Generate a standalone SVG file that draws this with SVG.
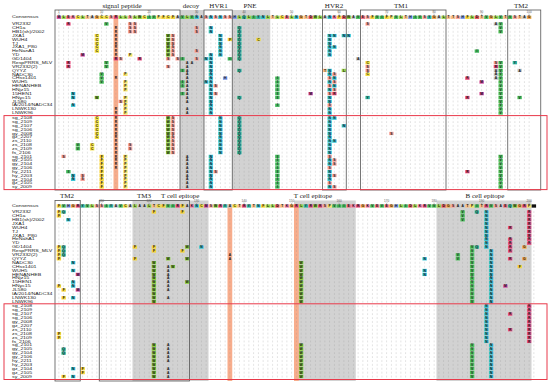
<svg xmlns="http://www.w3.org/2000/svg" width="550" height="384" viewBox="0 0 550 384">
<style>
.nm{font-family:"Liberation Sans",Arial,sans-serif;font-size:3.4px;fill:#222}
.hd{font-family:"Liberation Serif","Times New Roman",serif;font-size:7px;fill:#222}
.mk{font-family:"Liberation Sans",Arial,sans-serif;font-size:3px;fill:#555;text-anchor:middle}
.box{fill:none;stroke:#555;stroke-width:0.8}
.red{fill:none;stroke:#e8394a;stroke-width:1}
.gr{fill:#d2d2d2}
.or{fill:#f8ad8c}
</style>
<defs>
<pattern id="p1" patternUnits="userSpaceOnUse" x="56.5" y="22.065" width="4.75" height="3.87"><circle cx="2.375" cy="1.935" r="0.42" fill="#888"/></pattern>
<pattern id="p2" patternUnits="userSpaceOnUse" x="56.5" y="116.29" width="4.75" height="3.82"><circle cx="2.375" cy="1.91" r="0.42" fill="#888"/></pattern>
<pattern id="p3" patternUnits="userSpaceOnUse" x="56.5" y="210.05" width="4.75" height="3.9"><circle cx="2.375" cy="1.95" r="0.42" fill="#888"/></pattern>
<pattern id="p4" patternUnits="userSpaceOnUse" x="56.5" y="304.35" width="4.75" height="3.9"><circle cx="2.375" cy="1.95" r="0.42" fill="#888"/></pattern>
<g id="kA"><rect x="-2.2" y="-1.65" width="4.4" height="3.3" fill="#c6c6c6"/><text y="1.15">A</text></g>
<g id="kC"><rect x="-2.2" y="-1.65" width="4.4" height="3.3" fill="#f0dc3c"/><text y="1.15">C</text></g>
<g id="kD"><rect x="-2.2" y="-1.65" width="4.4" height="3.3" fill="#e4585a"/><text y="1.15">D</text></g>
<g id="kE"><rect x="-2.2" y="-1.65" width="4.4" height="3.3" fill="#ef6f7f"/><text y="1.15">E</text></g>
<g id="kF"><rect x="-2.2" y="-1.65" width="4.4" height="3.3" fill="#f6d43a"/><text y="1.15">F</text></g>
<g id="kG"><rect x="-2.2" y="-1.65" width="4.4" height="3.3" fill="#f3a64a"/><text y="1.15">G</text></g>
<g id="kH"><rect x="-2.2" y="-1.65" width="4.4" height="3.3" fill="#7f9be6"/><text y="1.15">H</text></g>
<g id="kI"><rect x="-2.2" y="-1.65" width="4.4" height="3.3" fill="#3fb55a"/><text y="1.15">I</text></g>
<g id="kK"><rect x="-2.2" y="-1.65" width="4.4" height="3.3" fill="#f27fa6"/><text y="1.15">K</text></g>
<g id="kL"><rect x="-2.2" y="-1.65" width="4.4" height="3.3" fill="#9bd44e"/><text y="1.15">L</text></g>
<g id="kM"><rect x="-2.2" y="-1.65" width="4.4" height="3.3" fill="#d24fa6"/><text y="1.15">M</text></g>
<g id="kN"><rect x="-2.2" y="-1.65" width="4.4" height="3.3" fill="#37c4d6"/><text y="1.15">N</text></g>
<g id="kP"><rect x="-2.2" y="-1.65" width="4.4" height="3.3" fill="#f7e36a"/><text y="1.15">P</text></g>
<g id="kQ"><rect x="-2.2" y="-1.65" width="4.4" height="3.3" fill="#36b89c"/><text y="1.15">Q</text></g>
<g id="kR"><rect x="-2.2" y="-1.65" width="4.4" height="3.3" fill="#ea4f7f"/><text y="1.15">R</text></g>
<g id="kS"><rect x="-2.2" y="-1.65" width="4.4" height="3.3" fill="#f6a39c"/><text y="1.15">S</text></g>
<g id="kT"><rect x="-2.2" y="-1.65" width="4.4" height="3.3" fill="#f8c08a"/><text y="1.15">T</text></g>
<g id="kV"><rect x="-2.2" y="-1.65" width="4.4" height="3.3" fill="#4cbf5c"/><text y="1.15">V</text></g>
<g id="kW"><rect x="-2.2" y="-1.65" width="4.4" height="3.3" fill="#8ccf3c"/><text y="1.15">W</text></g>
<g id="kY"><rect x="-2.2" y="-1.65" width="4.4" height="3.3" fill="#2fb5a3"/><text y="1.15">Y</text></g>
<g id="kX"><rect x="-2.2" y="-1.65" width="4.4" height="3.3" fill="#111"/></g>
<g id="oR"><text y="1.15">R</text></g>
<g id="oA"><text y="1.15">A</text></g>
</defs>
<rect width="550" height="384" fill="#fff"/>

<!-- background shading -->
<g id="shading">
<rect class="gr" x="180" y="10" width="24" height="180"/>
<rect class="gr" x="232.25" y="10" width="38" height="180"/>
<rect class="or" x="113.5" y="15" width="4.75" height="175"/>
<rect class="gr" x="132.5" y="200.5" width="76" height="180.5"/>
<rect class="gr" x="294" y="200.5" width="61.75" height="180.5"/>
<rect class="gr" x="436.5" y="200.5" width="95" height="180.5"/>
<rect class="or" x="227.5" y="204" width="4.75" height="177"/>
<rect class="or" x="294" y="204" width="4.75" height="177"/>
</g>

<g id="dots">
<rect x="56.5" y="22.065" width="475" height="92.88" fill="url(#p1)"/>
<rect x="56.5" y="116.29" width="475" height="72.58" fill="url(#p2)"/>
<rect x="56.5" y="210.05" width="479.75" height="93.6" fill="url(#p3)"/>
<rect x="56.5" y="304.35" width="479.75" height="74.1" fill="url(#p4)"/>
</g>

<!-- region labels -->
<g id="labels">
<text class="hd" x="122" y="8" text-anchor="middle">signal peptide</text>
<text class="hd" x="191" y="8" text-anchor="middle">decoy</text>
<text class="hd" x="218.5" y="8" text-anchor="middle">HVR1</text>
<text class="hd" x="250" y="8" text-anchor="middle">PNE</text>
<text class="hd" x="334" y="8" text-anchor="middle">HVR2</text>
<text class="hd" x="401" y="8" text-anchor="middle">TM1</text>
<text class="hd" x="521" y="8" text-anchor="middle">TM2</text>
<text class="hd" x="67" y="197.5" text-anchor="middle">TM2</text>
<text class="hd" x="137" y="197.5">TM3</text>
<text class="hd" x="161" y="197.5">T cell epitope</text>
<text class="hd" x="313" y="197.5" text-anchor="middle">T cell epitope</text>
<text class="hd" x="485" y="197.5" text-anchor="middle">B cell epitope</text>
</g>

<!-- position markers -->
<g id="markers">
<text class="mk" x="58.88" y="13">1</text><text class="mk" x="101.63" y="13">10</text><text class="mk" x="149.13" y="13">20</text><text class="mk" x="196.63" y="13">30</text><text class="mk" x="244.13" y="13">40</text><text class="mk" x="291.63" y="13">50</text><text class="mk" x="339.13" y="13">60</text><text class="mk" x="386.63" y="13">70</text><text class="mk" x="434.13" y="13">80</text><text class="mk" x="481.63" y="13">90</text><text class="mk" x="529.13" y="13">100</text>
<text class="mk" x="101.63" y="202.2">110</text><text class="mk" x="149.13" y="202.2">120</text><text class="mk" x="196.63" y="202.2">130</text><text class="mk" x="244.13" y="202.2">140</text><text class="mk" x="291.63" y="202.2">150</text><text class="mk" x="339.13" y="202.2">160</text><text class="mk" x="386.63" y="202.2">170</text><text class="mk" x="434.13" y="202.2">180</text><text class="mk" x="481.63" y="202.2">190</text><text class="mk" x="529.13" y="202.2">200</text>
<path fill="none" stroke="#777" stroke-width="0.35" d="M58.08,13.4L58.88,14.6L59.68,13.4M100.83,13.4L101.63,14.6L102.43,13.4M148.33,13.4L149.13,14.6L149.93,13.4M195.83,13.4L196.63,14.6L197.43,13.4M243.33,13.4L244.13,14.6L244.93,13.4M290.83,13.4L291.63,14.6L292.43,13.4M338.33,13.4L339.13,14.6L339.93,13.4M385.83,13.4L386.63,14.6L387.43,13.4M433.33,13.4L434.13,14.6L434.93,13.4M480.83,13.4L481.63,14.6L482.43,13.4M528.33,13.4L529.13,14.6L529.93,13.4"/>
<path fill="none" stroke="#777" stroke-width="0.35" d="M100.83,202.5L101.63,203.7L102.43,202.5M148.33,202.5L149.13,203.7L149.93,202.5M195.83,202.5L196.63,203.7L197.43,202.5M243.33,202.5L244.13,203.7L244.93,202.5M290.83,202.5L291.63,203.7L292.43,202.5M338.33,202.5L339.13,203.7L339.93,202.5M385.83,202.5L386.63,203.7L387.43,202.5M433.33,202.5L434.13,203.7L434.93,202.5M480.83,202.5L481.63,203.7L482.43,202.5M528.33,202.5L529.13,203.7L529.93,202.5"/>
</g>

<!-- strain names -->
<g id="names" class="nm" transform="translate(12,0) scale(1.55,1)">
<text x="0" y="18.5">Consensus</text>
<text x="0" y="25.2">VR2332</text>
<text x="0" y="29.07">CH1a</text>
<text x="0" y="32.94">HB1(sh)/2002</text>
<text x="0" y="36.81">JXA1</text>
<text x="0" y="40.68">WUH4</text>
<text x="0" y="44.55">TJ</text>
<text x="0" y="48.42">JXA1_P80</text>
<text x="0" y="52.29">HeNanA1</text>
<text x="0" y="56.16">YD</text>
<text x="0" y="60.03">GD1404</text>
<text x="0" y="63.9">RespPRRS_MLV</text>
<text x="0" y="67.77">VR2332(2)</text>
<text x="0" y="71.64">QYYZ</text>
<text x="0" y="75.51">NADC30</text>
<text x="0" y="79.38">CHsx1401</text>
<text x="0" y="83.25">WUH5</text>
<text x="0" y="87.12">HENANHEB</text>
<text x="0" y="90.99">HNjz15</text>
<text x="0" y="94.86">15HEN1</text>
<text x="0" y="98.73">HNyc15</text>
<text x="0" y="102.6">JL580</text>
<text x="0" y="106.47">IA/2014/NADC34</text>
<text x="0" y="110.34">LNWK130</text>
<text x="0" y="114.21">LNWK96</text>
<text x="0" y="119.4">sg_2108</text>
<text x="0" y="123.22">sg_2109</text>
<text x="0" y="127.04">sg_2107</text>
<text x="0" y="130.86">sg_2106</text>
<text x="0" y="134.68">gy_2008</text>
<text x="0" y="138.5">gz_2207</text>
<text x="0" y="142.32">zs_2110</text>
<text x="0" y="146.14">zs_2108</text>
<text x="0" y="149.96">zs_2109</text>
<text x="0" y="153.78">fs_2106</text>
<text x="0" y="157.6">sg_2101</text>
<text x="0" y="161.42">gy_2105</text>
<text x="0" y="165.24">gy_2104</text>
<text x="0" y="169.06">gy_2106</text>
<text x="0" y="172.88">hy_2211</text>
<text x="0" y="176.7">hy_2203</text>
<text x="0" y="180.52">gz_2104</text>
<text x="0" y="184.34">gz_2105</text>
<text x="0" y="188.16">sy_2009</text>
<text x="0" y="207.2">Consensus</text>
<text x="0" y="213.2">VR2332</text>
<text x="0" y="217.1">CH1a</text>
<text x="0" y="221">HB1(sh)/2002</text>
<text x="0" y="224.9">JXA1</text>
<text x="0" y="228.8">WUH4</text>
<text x="0" y="232.7">TJ</text>
<text x="0" y="236.6">JXA1_P80</text>
<text x="0" y="240.5">HeNanA1</text>
<text x="0" y="244.4">YD</text>
<text x="0" y="248.3">GD1404</text>
<text x="0" y="252.2">RespPRRS_MLV</text>
<text x="0" y="256.1">VR2332(2)</text>
<text x="0" y="260">QYYZ</text>
<text x="0" y="263.9">NADC30</text>
<text x="0" y="267.8">CHsx1401</text>
<text x="0" y="271.7">WUH5</text>
<text x="0" y="275.6">HENANHEB</text>
<text x="0" y="279.5">HNjz15</text>
<text x="0" y="283.4">15HEN1</text>
<text x="0" y="287.3">HNyc15</text>
<text x="0" y="291.2">JL580</text>
<text x="0" y="295.1">IA/2014/NADC34</text>
<text x="0" y="299">LNWK130</text>
<text x="0" y="302.9">LNWK96</text>
<text x="0" y="307.5">sg_2108</text>
<text x="0" y="311.4">sg_2109</text>
<text x="0" y="315.3">sg_2107</text>
<text x="0" y="319.2">sg_2106</text>
<text x="0" y="323.1">gy_2008</text>
<text x="0" y="327">gz_2207</text>
<text x="0" y="330.9">zs_2110</text>
<text x="0" y="334.8">zs_2108</text>
<text x="0" y="338.7">zs_2109</text>
<text x="0" y="342.6">fs_2106</text>
<text x="0" y="346.5">sg_2101</text>
<text x="0" y="350.4">gy_2105</text>
<text x="0" y="354.3">gy_2104</text>
<text x="0" y="358.2">gy_2106</text>
<text x="0" y="362.1">hy_2211</text>
<text x="0" y="366">hy_2203</text>
<text x="0" y="369.9">gz_2104</text>
<text x="0" y="373.8">gz_2105</text>
<text x="0" y="377.7">sy_2009</text>
</g>

<g id="cells" font-family="Liberation Sans, Arial, sans-serif" font-size="3.3" font-weight="bold" text-anchor="middle" fill="#111">
<!-- top consensus -->
<g transform="translate(0,17.3)">
<use href="#kM" x="58.88"/><use href="#kL" x="63.63"/><use href="#kE" x="68.38"/><use href="#kK" x="73.13"/><use href="#kC" x="77.88"/><use href="#kL" x="82.63"/><use href="#kT" x="87.38"/><use href="#kA" x="92.13"/><use href="#kG" x="96.88"/><use href="#kC" x="101.63"/>
<use href="#kC" x="106.38"/><use href="#kS" x="111.13"/><use href="#kR" x="115.88"/><use href="#kL" x="120.63"/><use href="#kL" x="125.38"/><use href="#kS" x="130.13"/><use href="#kL" x="134.88"/><use href="#kW" x="139.63"/><use href="#kC" x="144.38"/><use href="#kI" x="149.13"/>
<use href="#kV" x="153.88"/><use href="#kP" x="158.63"/><use href="#kF" x="163.38"/><use href="#kC" x="168.13"/><use href="#kF" x="172.88"/><use href="#kA" x="177.63"/><use href="#kV" x="182.38"/><use href="#kL" x="187.13"/><use href="#kV" x="191.88"/><use href="#kN" x="196.63"/>
<use href="#kA" x="201.38"/><use href="#kS" x="206.13"/><use href="#kN" x="210.88"/><use href="#kS" x="215.63"/><use href="#kN" x="220.38"/><use href="#kS" x="225.13"/><use href="#kS" x="229.88"/><use href="#kH" x="234.63"/><use href="#kL" x="239.38"/><use href="#kQ" x="244.13"/>
<use href="#kL" x="248.88"/><use href="#kI" x="253.63"/><use href="#kY" x="258.38"/><use href="#kN" x="263.13"/><use href="#kL" x="267.88"/><use href="#kT" x="272.63"/><use href="#kL" x="277.38"/><use href="#kC" x="282.13"/><use href="#kE" x="286.88"/><use href="#kL" x="291.63"/>
<use href="#kN" x="296.38"/><use href="#kG" x="301.13"/><use href="#kT" x="305.88"/><use href="#kD" x="310.63"/><use href="#kW" x="315.38"/><use href="#kL" x="320.13"/><use href="#kA" x="324.88"/><use href="#kN" x="329.63"/><use href="#kK" x="334.38"/><use href="#kF" x="339.13"/>
<use href="#kD" x="343.88"/><use href="#kW" x="348.63"/><use href="#kA" x="353.38"/><use href="#kV" x="358.13"/><use href="#kE" x="362.88"/><use href="#kS" x="367.63"/><use href="#kF" x="372.38"/><use href="#kV" x="377.13"/><use href="#kI" x="381.88"/><use href="#kF" x="386.63"/>
<use href="#kP" x="391.38"/><use href="#kV" x="396.13"/><use href="#kL" x="400.88"/><use href="#kT" x="405.63"/><use href="#kH" x="410.38"/><use href="#kI" x="415.13"/><use href="#kV" x="419.88"/><use href="#kS" x="424.63"/><use href="#kY" x="429.38"/><use href="#kG" x="434.13"/>
<use href="#kA" x="438.88"/><use href="#kL" x="443.63"/><use href="#kT" x="448.38"/><use href="#kT" x="453.13"/><use href="#kS" x="457.88"/><use href="#kH" x="462.63"/><use href="#kF" x="467.38"/><use href="#kL" x="472.13"/><use href="#kD" x="476.88"/><use href="#kT" x="481.63"/>
<use href="#kV" x="486.38"/><use href="#kG" x="491.13"/><use href="#kL" x="495.88"/><use href="#kV" x="500.63"/><use href="#kT" x="505.38"/><use href="#kV" x="510.13"/><use href="#kS" x="514.88"/><use href="#kT" x="519.63"/><use href="#kA" x="524.38"/><use href="#kG" x="529.13"/>
</g>
<!-- top reference strains -->
<g transform="translate(0,24)"><use href="#kR" x="68.38"/><use href="#kV" x="106.38"/><use href="#kS" x="130.13"/><use href="#kS" x="134.88"/><use href="#kS" x="367.63"/><use href="#kA" x="495.88"/><use href="#kV" x="500.63"/></g>
<g transform="translate(0,27.87)"><use href="#oR" x="115.88"/><use href="#kS" x="130.13"/><use href="#kS" x="134.88"/><use href="#kS" x="196.63"/><use href="#kN" x="210.88"/><use href="#kQ" x="239.38"/><use href="#kV" x="500.63"/></g>
<g transform="translate(0,31.74)"><use href="#oR" x="115.88"/><use href="#kS" x="130.13"/><use href="#kS" x="134.88"/><use href="#kS" x="196.63"/><use href="#kN" x="210.88"/><use href="#kQ" x="239.38"/><use href="#kV" x="500.63"/></g>
<g transform="translate(0,35.61)"><use href="#kC" x="96.88"/><use href="#oR" x="115.88"/><use href="#kW" x="168.13"/><use href="#kS" x="172.88"/><use href="#kN" x="220.38"/><use href="#kQ" x="239.38"/><use href="#kN" x="329.63"/><use href="#kN" x="334.38"/><use href="#kN" x="343.88"/><use href="#kN" x="348.63"/></g>
<g transform="translate(0,39.48)"><use href="#kC" x="96.88"/><use href="#oR" x="115.88"/><use href="#kW" x="168.13"/><use href="#kS" x="172.88"/><use href="#kN" x="220.38"/><use href="#kF" x="229.88"/><use href="#kQ" x="239.38"/><use href="#kC" x="258.38"/><use href="#kN" x="329.63"/></g>
<g transform="translate(0,43.35)"><use href="#kC" x="96.88"/><use href="#oR" x="115.88"/><use href="#kW" x="168.13"/><use href="#kS" x="172.88"/><use href="#kN" x="220.38"/><use href="#kQ" x="239.38"/><use href="#kN" x="329.63"/></g>
<g transform="translate(0,47.22)"><use href="#kC" x="96.88"/><use href="#oR" x="115.88"/><use href="#kW" x="168.13"/><use href="#kS" x="172.88"/><use href="#kN" x="220.38"/><use href="#kQ" x="239.38"/><use href="#kN" x="329.63"/><use href="#kN" x="334.38"/></g>
<g transform="translate(0,51.09)"><use href="#kC" x="96.88"/><use href="#oR" x="115.88"/><use href="#kW" x="168.13"/><use href="#kS" x="172.88"/><use href="#kS" x="196.63"/><use href="#kN" x="220.38"/><use href="#kQ" x="239.38"/><use href="#kN" x="329.63"/><use href="#kI" x="476.88"/></g>
<g transform="translate(0,54.96)"><use href="#kM" x="82.63"/><use href="#oR" x="115.88"/><use href="#kP" x="130.13"/><use href="#kW" x="168.13"/><use href="#kS" x="172.88"/><use href="#kN" x="210.88"/><use href="#kN" x="220.38"/><use href="#kQ" x="239.38"/><use href="#kN" x="329.63"/></g>
<g transform="translate(0,58.83)"><use href="#kR" x="115.88"/><use href="#kS" x="120.63"/><use href="#kR" x="139.63"/><use href="#kS" x="168.13"/><use href="#kS" x="177.63"/><use href="#kI" x="182.38"/><use href="#kS" x="196.63"/><use href="#kN" x="206.13"/><use href="#kN" x="210.88"/><use href="#kI" x="229.88"/><use href="#kQ" x="239.38"/><use href="#kA" x="358.13"/></g>
<g transform="translate(0,62.7)"><use href="#kR" x="68.38"/><use href="#kV" x="106.38"/><use href="#kA" x="187.13"/><use href="#kA" x="191.88"/><use href="#kN" x="210.88"/><use href="#kC" x="367.63"/><use href="#kS" x="495.88"/><use href="#kV" x="500.63"/><use href="#kY" x="514.88"/></g>
<g transform="translate(0,66.57)"><use href="#kR" x="68.38"/><use href="#kV" x="106.38"/><use href="#kS" x="168.13"/><use href="#kA" x="187.13"/><use href="#kN" x="210.88"/><use href="#kS" x="367.63"/><use href="#kR" x="495.88"/><use href="#kV" x="500.63"/></g>
<g transform="translate(0,70.44)"><use href="#kI" x="182.38"/><use href="#kA" x="187.13"/><use href="#kN" x="210.88"/><use href="#kQ" x="239.38"/><use href="#kT" x="324.88"/><use href="#kN" x="329.63"/><use href="#kL" x="343.88"/><use href="#kS" x="367.63"/><use href="#kA" x="495.88"/><use href="#kV" x="500.63"/><use href="#kA" x="519.63"/></g>
<g transform="translate(0,74.31)"><use href="#kV" x="101.63"/><use href="#kP" x="125.38"/><use href="#kA" x="187.13"/><use href="#kN" x="210.88"/><use href="#kN" x="329.63"/><use href="#kS" x="334.38"/><use href="#kC" x="367.63"/><use href="#kA" x="495.88"/><use href="#kV" x="500.63"/></g>
<g transform="translate(0,78.18)"><use href="#kV" x="101.63"/><use href="#oR" x="115.88"/><use href="#kA" x="187.13"/><use href="#kN" x="210.88"/><use href="#kH" x="225.13"/><use href="#kI" x="277.38"/><use href="#kS" x="329.63"/><use href="#kN" x="334.38"/><use href="#kR" x="467.38"/><use href="#kA" x="495.88"/><use href="#kV" x="500.63"/></g>
<g transform="translate(0,82.05)"><use href="#kV" x="101.63"/><use href="#kP" x="125.38"/><use href="#kI" x="182.38"/><use href="#kA" x="187.13"/><use href="#kN" x="206.13"/><use href="#kN" x="210.88"/><use href="#kI" x="277.38"/><use href="#kN" x="329.63"/><use href="#kS" x="334.38"/><use href="#kM" x="481.63"/><use href="#kV" x="500.63"/></g>
<g transform="translate(0,85.92)"><use href="#kP" x="125.38"/><use href="#kI" x="182.38"/><use href="#kA" x="187.13"/><use href="#kN" x="210.88"/><use href="#kS" x="215.63"/><use href="#kI" x="277.38"/><use href="#kS" x="329.63"/><use href="#kN" x="334.38"/><use href="#kV" x="500.63"/></g>
<g transform="translate(0,89.79)"><use href="#kP" x="125.38"/><use href="#kA" x="187.13"/><use href="#kN" x="210.88"/><use href="#kI" x="277.38"/><use href="#kN" x="329.63"/><use href="#kS" x="334.38"/><use href="#kV" x="500.63"/></g>
<g transform="translate(0,93.66)"><use href="#kN" x="73.13"/><use href="#kI" x="182.38"/><use href="#kA" x="187.13"/><use href="#kN" x="210.88"/><use href="#kS" x="215.63"/><use href="#kI" x="277.38"/><use href="#kM" x="310.63"/><use href="#kS" x="329.63"/><use href="#kR" x="334.38"/><use href="#kM" x="481.63"/><use href="#kV" x="500.63"/></g>
<g transform="translate(0,97.53)"><use href="#kN" x="73.13"/><use href="#kW" x="96.88"/><use href="#kP" x="125.38"/><use href="#kA" x="187.13"/><use href="#kN" x="210.88"/><use href="#kQ" x="239.38"/><use href="#kI" x="277.38"/><use href="#kN" x="329.63"/><use href="#kY" x="367.63"/><use href="#kR" x="467.38"/><use href="#kV" x="500.63"/><use href="#kV" x="519.63"/></g>
<g transform="translate(0,101.4)"><use href="#kS" x="120.63"/><use href="#kP" x="125.38"/><use href="#kA" x="187.13"/><use href="#kN" x="210.88"/><use href="#kN" x="329.63"/><use href="#kV" x="500.63"/></g>
<g transform="translate(0,105.27)"><use href="#kN" x="73.13"/><use href="#kP" x="125.38"/><use href="#kN" x="210.88"/><use href="#kI" x="277.38"/><use href="#kS" x="329.63"/><use href="#kV" x="500.63"/></g>
<g transform="translate(0,109.14)"><use href="#oR" x="115.88"/><use href="#kP" x="125.38"/><use href="#kA" x="187.13"/><use href="#kN" x="210.88"/><use href="#kN" x="329.63"/><use href="#kV" x="500.63"/></g>
<g transform="translate(0,113.01)"><use href="#oR" x="115.88"/><use href="#kP" x="125.38"/><use href="#kA" x="187.13"/><use href="#kN" x="210.88"/><use href="#kN" x="329.63"/><use href="#kV" x="500.63"/></g>
<!-- top field strains -->
<g transform="translate(0,118.2)"><use href="#kC" x="96.88"/><use href="#oR" x="115.88"/><use href="#kW" x="168.13"/><use href="#kS" x="172.88"/><use href="#kN" x="220.38"/><use href="#kQ" x="239.38"/><use href="#kN" x="329.63"/><use href="#kN" x="334.38"/></g>
<g transform="translate(0,122.02)"><use href="#kC" x="96.88"/><use href="#oR" x="115.88"/><use href="#kW" x="168.13"/><use href="#kS" x="172.88"/><use href="#kN" x="220.38"/><use href="#kQ" x="239.38"/><use href="#kN" x="329.63"/></g>
<g transform="translate(0,125.84)"><use href="#kC" x="96.88"/><use href="#oR" x="115.88"/><use href="#kW" x="168.13"/><use href="#kS" x="172.88"/><use href="#kN" x="220.38"/><use href="#kQ" x="239.38"/><use href="#kN" x="329.63"/><use href="#kN" x="343.88"/></g>
<g transform="translate(0,129.66)"><use href="#kC" x="96.88"/><use href="#oR" x="115.88"/><use href="#kW" x="168.13"/><use href="#kS" x="172.88"/><use href="#kN" x="220.38"/><use href="#kQ" x="239.38"/><use href="#kN" x="329.63"/></g>
<g transform="translate(0,133.48)"><use href="#kC" x="96.88"/><use href="#oR" x="115.88"/><use href="#kW" x="168.13"/><use href="#kS" x="172.88"/><use href="#kN" x="220.38"/><use href="#kQ" x="239.38"/><use href="#kN" x="329.63"/><use href="#kS" x="391.38"/></g>
<g transform="translate(0,137.3)"><use href="#kC" x="96.88"/><use href="#oR" x="115.88"/><use href="#kW" x="168.13"/><use href="#kS" x="172.88"/><use href="#kN" x="220.38"/><use href="#kQ" x="239.38"/><use href="#kN" x="329.63"/></g>
<g transform="translate(0,141.12)"><use href="#oR" x="115.88"/><use href="#kW" x="168.13"/><use href="#kS" x="172.88"/><use href="#kN" x="220.38"/><use href="#kQ" x="239.38"/><use href="#kN" x="329.63"/><use href="#kN" x="334.38"/></g>
<g transform="translate(0,144.94)"><use href="#kV" x="77.88"/><use href="#kC" x="92.13"/><use href="#oR" x="115.88"/><use href="#kS" x="130.13"/><use href="#kW" x="168.13"/><use href="#kS" x="172.88"/><use href="#kN" x="220.38"/><use href="#kQ" x="239.38"/><use href="#kN" x="329.63"/></g>
<g transform="translate(0,148.76)"><use href="#kV" x="77.88"/><use href="#kC" x="92.13"/><use href="#oR" x="115.88"/><use href="#kS" x="130.13"/><use href="#kW" x="168.13"/><use href="#kS" x="172.88"/><use href="#kN" x="220.38"/><use href="#kQ" x="239.38"/><use href="#kN" x="329.63"/></g>
<g transform="translate(0,152.58)"><use href="#oR" x="115.88"/><use href="#kW" x="168.13"/><use href="#kS" x="172.88"/><use href="#kN" x="220.38"/><use href="#kQ" x="239.38"/><use href="#kN" x="329.63"/></g>
<g transform="translate(0,156.4)"><use href="#kS" x="63.63"/><use href="#kF" x="101.63"/><use href="#oR" x="115.88"/><use href="#kP" x="125.38"/><use href="#kA" x="187.13"/><use href="#kN" x="210.88"/><use href="#kI" x="277.38"/><use href="#kS" x="329.63"/><use href="#kV" x="500.63"/></g>
<g transform="translate(0,160.22)"><use href="#kF" x="101.63"/><use href="#oR" x="115.88"/><use href="#kP" x="125.38"/><use href="#kA" x="187.13"/><use href="#kN" x="210.88"/><use href="#kI" x="277.38"/><use href="#kN" x="329.63"/><use href="#kS" x="334.38"/><use href="#kV" x="500.63"/></g>
<g transform="translate(0,164.04)"><use href="#kF" x="101.63"/><use href="#oR" x="115.88"/><use href="#kP" x="125.38"/><use href="#kA" x="187.13"/><use href="#kN" x="210.88"/><use href="#kI" x="277.38"/><use href="#kN" x="329.63"/><use href="#kS" x="334.38"/><use href="#kV" x="500.63"/></g>
<g transform="translate(0,167.86)"><use href="#kF" x="101.63"/><use href="#oR" x="115.88"/><use href="#kP" x="125.38"/><use href="#kA" x="187.13"/><use href="#kN" x="210.88"/><use href="#kI" x="277.38"/><use href="#kS" x="329.63"/><use href="#kV" x="500.63"/></g>
<g transform="translate(0,171.68)"><use href="#kI" x="68.38"/><use href="#kF" x="101.63"/><use href="#kP" x="125.38"/><use href="#kA" x="187.13"/><use href="#kN" x="210.88"/><use href="#kS" x="215.63"/><use href="#kI" x="277.38"/><use href="#kN" x="329.63"/><use href="#kR" x="467.38"/><use href="#kV" x="500.63"/></g>
<g transform="translate(0,175.5)"><use href="#kN" x="73.13"/><use href="#kS" x="82.63"/><use href="#kF" x="101.63"/><use href="#kP" x="125.38"/><use href="#kA" x="187.13"/><use href="#kN" x="210.88"/><use href="#kI" x="277.38"/><use href="#kN" x="329.63"/><use href="#kS" x="334.38"/><use href="#kV" x="500.63"/></g>
<g transform="translate(0,179.32)"><use href="#kN" x="73.13"/><use href="#kS" x="82.63"/><use href="#kF" x="101.63"/><use href="#kP" x="125.38"/><use href="#kA" x="187.13"/><use href="#kN" x="210.88"/><use href="#kI" x="277.38"/><use href="#kN" x="329.63"/><use href="#kV" x="500.63"/></g>
<g transform="translate(0,183.14)"><use href="#kF" x="101.63"/><use href="#kP" x="125.38"/><use href="#kA" x="187.13"/><use href="#kN" x="210.88"/><use href="#kI" x="277.38"/><use href="#kS" x="329.63"/><use href="#kV" x="500.63"/></g>
<g transform="translate(0,186.96)"><use href="#kF" x="101.63"/><use href="#kP" x="125.38"/><use href="#kA" x="187.13"/><use href="#kN" x="210.88"/><use href="#kI" x="277.38"/><use href="#kN" x="329.63"/><use href="#kS" x="334.38"/><use href="#kV" x="500.63"/></g>

<!-- bottom consensus -->
<g transform="translate(0,206)">
<use href="#kF" x="58.88"/><use href="#kV" x="63.63"/><use href="#kH" x="68.38"/><use href="#kG" x="73.13"/><use href="#kR" x="77.88"/><use href="#kY" x="82.63"/><use href="#kV" x="87.38"/><use href="#kL" x="92.13"/><use href="#kS" x="96.88"/><use href="#kS" x="101.63"/>
<use href="#kI" x="106.38"/><use href="#kY" x="111.13"/><use href="#kA" x="115.88"/><use href="#kV" x="120.63"/><use href="#kC" x="125.38"/><use href="#kA" x="130.13"/><use href="#kL" x="134.88"/><use href="#kA" x="139.63"/><use href="#kA" x="144.38"/><use href="#kL" x="149.13"/>
<use href="#kT" x="153.88"/><use href="#kC" x="158.63"/><use href="#kF" x="163.38"/><use href="#kV" x="168.13"/><use href="#kI" x="172.88"/><use href="#kR" x="177.63"/><use href="#kF" x="182.38"/><use href="#kA" x="187.13"/><use href="#kK" x="191.88"/><use href="#kN" x="196.63"/>
<use href="#kC" x="201.38"/><use href="#kM" x="206.13"/><use href="#kS" x="210.88"/><use href="#kW" x="215.63"/><use href="#kR" x="220.38"/><use href="#kY" x="225.13"/><use href="#kA" x="229.88"/><use href="#kC" x="234.63"/><use href="#kT" x="239.38"/><use href="#kR" x="244.13"/>
<use href="#kY" x="248.88"/><use href="#kT" x="253.63"/><use href="#kN" x="258.38"/><use href="#kF" x="263.13"/><use href="#kL" x="267.88"/><use href="#kL" x="272.63"/><use href="#kD" x="277.38"/><use href="#kT" x="282.13"/><use href="#kK" x="286.88"/><use href="#kG" x="291.63"/>
<use href="#kR" x="296.38"/><use href="#kL" x="301.13"/><use href="#kY" x="305.88"/><use href="#kR" x="310.63"/><use href="#kW" x="315.38"/><use href="#kR" x="320.13"/><use href="#kS" x="324.88"/><use href="#kP" x="329.63"/><use href="#kV" x="334.38"/><use href="#kI" x="339.13"/>
<use href="#kI" x="343.88"/><use href="#kE" x="348.63"/><use href="#kK" x="353.38"/><use href="#kR" x="358.13"/><use href="#kG" x="362.88"/><use href="#kK" x="367.63"/><use href="#kV" x="372.38"/><use href="#kE" x="377.13"/><use href="#kV" x="381.88"/><use href="#kE" x="386.63"/>
<use href="#kG" x="391.38"/><use href="#kH" x="396.13"/><use href="#kL" x="400.88"/><use href="#kI" x="405.63"/><use href="#kD" x="410.38"/><use href="#kL" x="415.13"/><use href="#kK" x="419.88"/><use href="#kR" x="424.63"/><use href="#kV" x="429.38"/><use href="#kV" x="434.13"/>
<use href="#kL" x="438.88"/><use href="#kD" x="443.63"/><use href="#kG" x="448.38"/><use href="#kS" x="453.13"/><use href="#kA" x="457.88"/><use href="#kA" x="462.63"/><use href="#kT" x="467.38"/><use href="#kP" x="472.13"/><use href="#kI" x="476.88"/><use href="#kT" x="481.63"/>
<use href="#kR" x="486.38"/><use href="#kV" x="491.13"/><use href="#kS" x="495.88"/><use href="#kA" x="500.63"/><use href="#kE" x="505.38"/><use href="#kQ" x="510.13"/><use href="#kW" x="514.88"/><use href="#kG" x="519.63"/><use href="#kR" x="524.38"/><use href="#kP" x="529.13"/>
<use href="#kX" x="533.88"/>
</g>
<!-- bottom reference strains -->
<g transform="translate(0,212)"><use href="#kF" x="58.88"/><use href="#kQ" x="63.63"/><use href="#kF" x="153.88"/><use href="#kF" x="182.38"/><use href="#kV" x="462.63"/><use href="#kQ" x="476.88"/><use href="#kN" x="486.38"/><use href="#kR" x="529.13"/></g>
<g transform="translate(0,215.9)"><use href="#kF" x="58.88"/><use href="#kV" x="462.63"/><use href="#kN" x="486.38"/><use href="#kR" x="529.13"/></g>
<g transform="translate(0,219.8)"><use href="#kN" x="68.38"/><use href="#kV" x="462.63"/><use href="#kN" x="486.38"/><use href="#kR" x="529.13"/></g>
<g transform="translate(0,223.7)"><use href="#kN" x="486.38"/><use href="#kR" x="529.13"/></g>
<g transform="translate(0,227.6)"><use href="#kN" x="486.38"/><use href="#kR" x="510.13"/><use href="#kR" x="529.13"/></g>
<g transform="translate(0,231.5)"><use href="#kN" x="486.38"/><use href="#kR" x="529.13"/></g>
<g transform="translate(0,235.4)"><use href="#kN" x="486.38"/><use href="#kR" x="529.13"/></g>
<g transform="translate(0,239.3)"><use href="#kN" x="486.38"/><use href="#kR" x="510.13"/><use href="#kR" x="529.13"/></g>
<g transform="translate(0,243.2)"><use href="#kN" x="486.38"/><use href="#kR" x="510.13"/><use href="#kR" x="529.13"/></g>
<g transform="translate(0,247.1)"><use href="#kF" x="58.88"/><use href="#kQ" x="63.63"/><use href="#kF" x="134.88"/><use href="#kF" x="153.88"/><use href="#kW" x="187.13"/><use href="#kN" x="201.38"/><use href="#kV" x="472.13"/><use href="#kQ" x="476.88"/><use href="#kN" x="486.38"/><use href="#kR" x="510.13"/><use href="#kG" x="524.38"/></g>
<g transform="translate(0,251)"><use href="#kF" x="58.88"/><use href="#kQ" x="63.63"/><use href="#kF" x="153.88"/><use href="#kF" x="182.38"/><use href="#kV" x="472.13"/><use href="#kN" x="491.13"/><use href="#kR" x="510.13"/></g>
<g transform="translate(0,254.9)"><use href="#kF" x="58.88"/><use href="#kQ" x="63.63"/><use href="#oA" x="229.88"/><use href="#kV" x="457.88"/><use href="#kV" x="472.13"/><use href="#kN" x="491.13"/></g>
<g transform="translate(0,258.8)"><use href="#kF" x="58.88"/><use href="#kF" x="134.88"/><use href="#kW" x="168.13"/><use href="#kW" x="187.13"/><use href="#oA" x="229.88"/><use href="#kN" x="424.63"/><use href="#kV" x="457.88"/><use href="#kV" x="472.13"/><use href="#kN" x="491.13"/><use href="#kR" x="510.13"/><use href="#kG" x="524.38"/></g>
<g transform="translate(0,262.7)"><use href="#kN" x="73.13"/><use href="#kW" x="153.88"/><use href="#kW" x="301.13"/><use href="#kV" x="472.13"/><use href="#kN" x="491.13"/></g>
<g transform="translate(0,266.6)"><use href="#kW" x="153.88"/><use href="#kA" x="168.13"/><use href="#kW" x="172.88"/><use href="#kW" x="301.13"/><use href="#kV" x="472.13"/><use href="#kN" x="491.13"/><use href="#kF" x="519.63"/></g>
<g transform="translate(0,270.5)"><use href="#kN" x="73.13"/><use href="#kW" x="153.88"/><use href="#kA" x="168.13"/><use href="#kW" x="301.13"/><use href="#kN" x="424.63"/><use href="#kV" x="472.13"/><use href="#kN" x="491.13"/></g>
<g transform="translate(0,274.4)"><use href="#kM" x="77.88"/><use href="#kW" x="153.88"/><use href="#kA" x="168.13"/><use href="#kW" x="301.13"/><use href="#kN" x="424.63"/><use href="#kV" x="472.13"/><use href="#kN" x="491.13"/></g>
<g transform="translate(0,278.3)"><use href="#kW" x="153.88"/><use href="#kA" x="168.13"/><use href="#kW" x="301.13"/><use href="#kV" x="472.13"/><use href="#kN" x="491.13"/></g>
<g transform="translate(0,282.2)"><use href="#kN" x="73.13"/><use href="#kW" x="153.88"/><use href="#kA" x="168.13"/><use href="#kW" x="187.13"/><use href="#kW" x="301.13"/><use href="#kV" x="472.13"/><use href="#kN" x="491.13"/></g>
<g transform="translate(0,286.1)"><use href="#kF" x="58.88"/><use href="#kN" x="73.13"/><use href="#kW" x="153.88"/><use href="#kA" x="168.13"/><use href="#kW" x="301.13"/><use href="#kV" x="472.13"/><use href="#kN" x="491.13"/><use href="#kM" x="505.38"/></g>
<g transform="translate(0,290)"><use href="#kF" x="63.63"/><use href="#kM" x="77.88"/><use href="#kW" x="153.88"/><use href="#kA" x="168.13"/><use href="#kW" x="301.13"/><use href="#kV" x="472.13"/><use href="#kN" x="491.13"/></g>
<g transform="translate(0,293.9)"><use href="#kW" x="153.88"/><use href="#kW" x="301.13"/><use href="#kV" x="472.13"/><use href="#kN" x="491.13"/></g>
<g transform="translate(0,297.8)"><use href="#kF" x="63.63"/><use href="#kN" x="73.13"/><use href="#kW" x="153.88"/><use href="#kA" x="168.13"/><use href="#kW" x="301.13"/><use href="#kV" x="472.13"/><use href="#kN" x="491.13"/></g>
<g transform="translate(0,301.7)"><use href="#kW" x="153.88"/><use href="#kW" x="301.13"/><use href="#kV" x="472.13"/><use href="#kN" x="491.13"/></g>
<!-- bottom field strains -->
<g transform="translate(0,306.3)"><use href="#kN" x="486.38"/><use href="#kR" x="529.13"/></g>
<g transform="translate(0,310.2)"><use href="#kN" x="486.38"/><use href="#kR" x="529.13"/></g>
<g transform="translate(0,314.1)"><use href="#kN" x="486.38"/><use href="#kR" x="510.13"/><use href="#kR" x="529.13"/></g>
<g transform="translate(0,318)"><use href="#kN" x="486.38"/><use href="#kR" x="529.13"/></g>
<g transform="translate(0,321.9)"><use href="#kN" x="486.38"/><use href="#kR" x="529.13"/></g>
<g transform="translate(0,325.8)"><use href="#kN" x="486.38"/><use href="#kR" x="529.13"/></g>
<g transform="translate(0,329.7)"><use href="#kN" x="486.38"/><use href="#kR" x="510.13"/><use href="#kR" x="529.13"/></g>
<g transform="translate(0,333.6)"><use href="#kF" x="58.88"/><use href="#kN" x="486.38"/><use href="#kR" x="529.13"/></g>
<g transform="translate(0,337.5)"><use href="#kF" x="58.88"/><use href="#kN" x="486.38"/><use href="#kR" x="529.13"/></g>
<g transform="translate(0,341.4)"><use href="#kN" x="486.38"/><use href="#kR" x="529.13"/></g>
<g transform="translate(0,345.3)"><use href="#kW" x="153.88"/><use href="#kA" x="168.13"/><use href="#kW" x="301.13"/><use href="#kV" x="472.13"/><use href="#kN" x="491.13"/></g>
<g transform="translate(0,349.2)"><use href="#kQ" x="63.63"/><use href="#kW" x="153.88"/><use href="#kA" x="168.13"/><use href="#kW" x="301.13"/><use href="#kV" x="472.13"/><use href="#kN" x="491.13"/></g>
<g transform="translate(0,353.1)"><use href="#kQ" x="63.63"/><use href="#kW" x="153.88"/><use href="#kA" x="168.13"/><use href="#kW" x="301.13"/><use href="#kV" x="472.13"/><use href="#kN" x="491.13"/></g>
<g transform="translate(0,357)"><use href="#kW" x="153.88"/><use href="#kA" x="168.13"/><use href="#kW" x="301.13"/><use href="#kV" x="472.13"/><use href="#kN" x="491.13"/></g>
<g transform="translate(0,360.9)"><use href="#kW" x="153.88"/><use href="#kA" x="168.13"/><use href="#kW" x="301.13"/><use href="#kV" x="472.13"/><use href="#kN" x="491.13"/></g>
<g transform="translate(0,364.8)"><use href="#kW" x="153.88"/><use href="#kW" x="301.13"/><use href="#kV" x="472.13"/><use href="#kN" x="491.13"/></g>
<g transform="translate(0,368.7)"><use href="#kN" x="73.13"/><use href="#kF" x="82.63"/><use href="#kW" x="153.88"/><use href="#kA" x="168.13"/><use href="#kW" x="301.13"/><use href="#kV" x="472.13"/><use href="#kN" x="491.13"/></g>
<g transform="translate(0,372.6)"><use href="#kF" x="82.63"/><use href="#kW" x="153.88"/><use href="#kA" x="168.13"/><use href="#kW" x="301.13"/><use href="#kV" x="472.13"/><use href="#kN" x="491.13"/></g>
<g transform="translate(0,376.5)"><use href="#kF" x="63.63"/><use href="#kN" x="73.13"/><use href="#kW" x="153.88"/><use href="#kA" x="168.13"/><use href="#kW" x="301.13"/><use href="#kV" x="472.13"/><use href="#kN" x="491.13"/></g>
</g>

<!-- region boxes -->
<g id="boxes">
<rect class="box" x="55" y="10" width="125" height="180"/>
<rect class="box" x="204" y="10" width="28.25" height="180"/>
<rect class="box" x="322.5" y="10" width="23.75" height="180"/>
<rect class="box" x="360.5" y="10" width="85.5" height="180"/>
<rect class="box" x="507.75" y="10" width="33" height="180"/>
<rect class="box" x="55" y="200.5" width="25.25" height="180.5"/>
<rect class="box" x="99.25" y="200.5" width="90.25" height="180.5"/>
</g>
<g id="fieldboxes">
<rect class="red" x="4" y="115.6" width="543" height="74"/>
<rect class="red" x="4" y="303.8" width="543" height="75.7"/>
</g>
</svg>
